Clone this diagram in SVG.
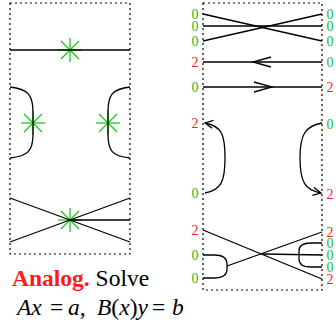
<svg xmlns="http://www.w3.org/2000/svg" width="336" height="327" viewBox="0 0 336 327">
<defs>
<style>
.frame{fill:none;stroke:#000;stroke-width:1.2;stroke-dasharray:2,3}
.ln{fill:none;stroke:#000;stroke-width:1.3}
.star{stroke:#22c422;stroke-width:1.3}
.lab{font-family:"Liberation Serif",serif;font-size:14px;text-anchor:middle}
.cap{font-family:"Liberation Serif",serif;font-size:23.5px;fill:#000}
.g{fill:#22bb22}
.r{fill:#ff1a1a}
.it{font-style:italic}
</style>
<marker id="ah" viewBox="-10 -6 12 12" refX="0" refY="0" markerWidth="12" markerHeight="12" markerUnits="userSpaceOnUse" orient="auto">
<path d="M-8,-4 L0,0 L-8,4" fill="none" stroke="#000" stroke-width="1.3"/>
</marker>
<g id="star-shape">
<line x1="-12" y1="0" x2="12" y2="0"/>
<line x1="0" y1="-12" x2="0" y2="12"/>
<line x1="-9" y1="-9" x2="9" y2="9"/>
<line x1="-9" y1="9" x2="9" y2="-9"/>
</g>
</defs>
<g id="left-panel">
<rect class="frame" x="10" y="3" width="120" height="251"/>
</g>
<g id="left-stars" class="star">
<use href="#star-shape" transform="translate(70,50)"/>
<use href="#star-shape" transform="translate(33,123)"/>
<use href="#star-shape" transform="translate(108,123)"/>
<use href="#star-shape" transform="translate(70,220)"/>
</g>
<g id="left-connectors" class="ln">
<line x1="10" y1="50" x2="130" y2="50"/>
<path d="M10,87 C28,89 33,95 33,112 V134 C33,151 28,156 10,158"/>
<path d="M130,87 C112,89 108,95 108,112 V134 C108,151 112,156 130,158"/>
<line x1="10" y1="198" x2="130" y2="242"/>
<line x1="10" y1="242" x2="130" y2="198"/>
<line x1="70" y1="220" x2="130" y2="220"/>
</g>
<g id="right-panel">
<rect class="frame" x="203" y="3" width="119" height="287"/>
</g>
<g id="connectors" class="ln">
<line x1="203" y1="14" x2="322" y2="41"/>
<line x1="203" y1="41" x2="322" y2="14"/>
<line x1="203" y1="26" x2="322" y2="26"/>
<line x1="203" y1="62" x2="322" y2="62"/>
<path d="M271,57 L253,62 L271,67"/>
<line x1="203" y1="87" x2="322" y2="87"/>
<path d="M254,82 L272,87 L254,92"/>
<path d="M205,193 C221,190 225,182 225,158 C225,135 222,126 205,123" marker-end="url(#ah)"/>
<path d="M322,123 C305,126 300,135 300,158 C300,182 305,190 321,193" marker-end="url(#ah)"/>
<line x1="203" y1="230" x2="322" y2="279"/>
<line x1="322" y1="232" x2="227" y2="266"/>
<line x1="263" y1="254" x2="322" y2="255"/>
<path d="M203,255 H214 Q227,255 227,264 V269 Q227,278 214,278 H203"/>
<path d="M322,243 H311 Q299,243 299,251 V259 Q299,267 311,267 H322"/>
</g>
<g id="labels-left" class="lab">
<text class="g" x="195" y="19">0</text>
<text class="g" x="195" y="31">0</text>
<text class="g" x="195" y="46">0</text>
<text class="r" x="195" y="67">2</text>
<text class="g" x="195" y="92">0</text>
<text class="r" x="195" y="128">2</text>
<text class="g" x="195" y="198">0</text>
<text class="r" x="195" y="235">2</text>
<text class="g" x="195" y="260">0</text>
<text class="g" x="195" y="283">0</text>
</g>
<g id="labels-right" class="lab">
<text class="g" x="330" y="19">0</text>
<text class="g" x="330" y="31">0</text>
<text class="g" x="330" y="46">0</text>
<text class="g" x="330" y="67">0</text>
<text class="r" x="330" y="92">2</text>
<text class="g" x="330" y="129">0</text>
<text class="r" x="330" y="199">2</text>
<text class="r" x="330" y="237">2</text>
<text class="g" x="330" y="248">0</text>
<text class="g" x="330" y="260">0</text>
<text class="g" x="330" y="272">0</text>
<text class="r" x="330" y="284">2</text>
</g>
<g id="caption" class="cap">
<text x="12" y="286"><tspan fill="#ff1a1a" font-weight="bold">Analog.</tspan> Solve</text>
<text y="315"><tspan class="it" x="17">Ax</tspan><tspan x="50">=</tspan><tspan class="it" x="68">a</tspan><tspan>,</tspan><tspan class="it" x="97">B</tspan><tspan>(</tspan><tspan class="it">x</tspan><tspan>)</tspan><tspan class="it">y</tspan><tspan x="152">=</tspan><tspan class="it" x="172">b</tspan></text>
</g>
</svg>
